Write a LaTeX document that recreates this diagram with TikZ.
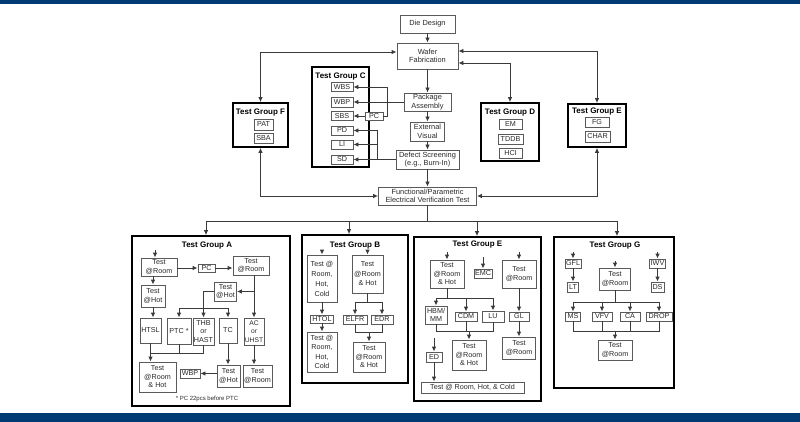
\documentclass[tikz,border=0pt]{standalone}
\usepackage{fontspec}
\setmainfont{Liberation Sans}
\usetikzlibrary{arrows.meta,calc}
\definecolor{navy}{HTML}{003B73}
\definecolor{txtc}{HTML}{2A2A2A}
\definecolor{bordc}{HTML}{5A5A5A}
\definecolor{linec}{HTML}{3A3A3A}
\begin{document}
\begin{tikzpicture}[x=1pt,y=-1pt,
  bx/.style={draw=bordc, fill=white, line width=0.9pt, inner sep=0pt, align=center, text=txtc, font=\fontsize{7.2}{8.5}\selectfont},
  fl/.style={bx, font=\fontsize{7.4}{8.5}\selectfont},
  grp/.style={draw=black, line width=1.8pt, inner sep=0pt},
  ttl/.style={font=\bfseries\fontsize{8}{9}\selectfont, text=black, inner sep=0pt},
  wire/.style={draw=linec, line width=0.9pt},
  arr/.style={wire, -{Latex[length=5pt,width=4.6pt]}},
  biarr/.style={wire, {Latex[length=5pt,width=4.6pt]}-{Latex[length=5pt,width=4.6pt]}}]
\useasboundingbox (0,0) rectangle (800,422);
\fill[navy] (0,0) rectangle (800,4);
\fill[navy] (0,413) rectangle (800,422);

% ---------- group frames ----------
\node[grp, minimum width=57pt, minimum height=100pt] (grpC) at (340.5,117) {};
\node[grp, minimum width=55pt, minimum height=44pt] (grpF) at (260.5,125) {};
\node[grp, minimum width=58pt, minimum height=58pt] (grpD) at (510,132) {};
\node[grp, minimum width=58pt, minimum height=43pt] (grpEt) at (597,125.5) {};
\node[grp, minimum width=158pt, minimum height=170pt] (grpA) at (211,321) {};
\node[grp, minimum width=106pt, minimum height=148pt] (grpB) at (355,309) {};
\node[grp, minimum width=127pt, minimum height=164pt] (grpEb) at (477.5,319) {};
\node[grp, minimum width=120pt, minimum height=151pt] (grpG) at (614,312.5) {};

\node[ttl] (tC) at (340.5,76.5) {Test Group C};
\node[ttl] (tF) at (260.5,113) {Test Group F};
\node[ttl] (tD) at (510,112.5) {Test Group D};
\node[ttl] (tEt) at (597,111.5) {Test Group E};
\node[ttl] (tA) at (207,245.5) {Test Group A};
\node[ttl] (tB) at (355,245.5) {Test Group B};
\node[ttl] (tEb) at (477.5,245) {Test Group E};
\node[ttl] (tG) at (615,246) {Test Group G};

% ---------- main flow ----------
\node[fl, minimum width=55pt, minimum height=18pt] (die) at (427.5,24) {Die Design};
\node[fl, minimum width=61pt, minimum height=26pt] (wafer) at (427.5,56) {Wafer\\Fabrication};
\node[fl, minimum width=47pt, minimum height=18pt] (pa) at (427.5,102) {Package\\Assembly};
\node[fl, minimum width=34pt, minimum height=19pt] (ev) at (427.5,131.5) {External\\Visual};
\node[fl, minimum width=63pt, minimum height=19pt] (ds) at (427.5,159.5) {Defect Screening\\(e.g., Burn-In)};
\node[fl, minimum width=98pt, minimum height=18pt] (fp) at (427.5,196) {Functional/Parametric\\Electrical Verification Test};

\draw[arr] (die.south) -- (wafer.north);
\draw[arr] (wafer.south) -- (pa.north);
\draw[arr] (pa.south) -- (ev.north);
\draw[arr] (ev.south) -- (ds.north);
\draw[arr] (ds.south) -- (fp.north);

% ---------- group C ----------
\node[bx, minimum width=22pt, minimum height=9pt] (wbs) at (342,87) {WBS};
\node[bx, minimum width=22pt, minimum height=10pt] (wbp) at (342,102) {WBP};
\node[bx, minimum width=22pt, minimum height=9pt] (sbs) at (342,116) {SBS};
\node[bx, minimum width=22pt, minimum height=9pt] (pd) at (342,130.5) {PD};
\node[bx, minimum width=22pt, minimum height=9pt] (li) at (342,144.5) {LI};
\node[bx, minimum width=22pt, minimum height=9pt] (sd) at (342,159.5) {SD};
\node[bx, minimum width=18pt, minimum height=8pt] (pcC) at (374,116) {PC};

\draw[arr] (pa.west) -- (wbp.east);
\coordinate (pcj) at (387,116);
\draw[arr] (pcC.east) -- (pcj) |- (wbs.east);
\draw[arr] (pcC.west) -- (sbs.east);
\draw[arr] (ds.west) -- (sd.east);
\coordinate (dsj) at (377,159.5);
\draw[arr] (dsj) |- (pd.east);
\draw[arr] (dsj |- li.east) -- (li.east);

% ---------- groups F, D, E (top) ----------
\node[bx, minimum width=19pt, minimum height=11pt] (pat) at (263.5,124.5) {PAT};
\node[bx, minimum width=19pt, minimum height=10pt] (sba) at (263.5,138) {SBA};
\node[bx, minimum width=23pt, minimum height=10pt] (em) at (510.5,124) {EM};
\node[bx, minimum width=25pt, minimum height=10pt] (tddb) at (510.5,139) {TDDB};
\node[bx, minimum width=23pt, minimum height=10pt] (hci) at (510.5,153) {HCI};
\node[bx, minimum width=24pt, minimum height=10pt] (fg) at (597,122) {FG};
\node[bx, minimum width=25pt, minimum height=11pt] (char) at (597.5,136.5) {CHAR};

\draw[biarr] (grpF.north) |- ([yshift=4pt]wafer.west);
\draw[biarr] (grpEt.north) |- ([yshift=5pt]wafer.east);
\draw[biarr] (grpD.north) |- ([yshift=-7pt]wafer.east);
\draw[biarr] (grpF.south) |- (fp.west);
\draw[biarr] (grpEt.south) |- (fp.east);

% ---------- bus to lower groups ----------
\coordinate (busA) at (206,221);
\coordinate (busB) at (349,221);
\coordinate (busE) at (477,221);
\coordinate (busG) at (617,221);
\draw[wire] (fp.south) -- (fp.south |- busA);
\draw[wire] (busA) -- (busG);
\draw[arr] (busA) -- (busA |- grpA.north);
\draw[arr] (busB) -- (busB |- grpB.north);
\draw[arr] (busE) -- (busE |- grpEb.north);
\draw[arr] (busG) -- (busG |- grpG.north);

% ---------- group A ----------
\node[bx, minimum width=36pt, minimum height=18pt] (aTR1) at (159,267) {Test\\@Room};
\node[bx, minimum width=17pt, minimum height=8pt] (aPC) at (206.5,268) {PC};
\node[bx, minimum width=36pt, minimum height=19pt] (aTR2) at (251,265.5) {Test\\@Room};
\node[bx, minimum width=24pt, minimum height=22pt] (aTH1) at (153,296) {Test\\@Hot};
\node[bx, minimum width=22pt, minimum height=19pt] (aTH2) at (225.5,291.5) {Test\\@Hot};
\node[bx, minimum width=21pt, minimum height=25pt] (htsl) at (150.5,330.5) {HTSL};
\node[bx, minimum width=24pt, minimum height=26pt] (ptc) at (179,331) {PTC *};
\node[bx, minimum width=21pt, minimum height=27pt] (thb) at (203.5,331.5) {THB\\or\\HAST};
\node[bx, minimum width=18pt, minimum height=25pt] (tc) at (228,330.5) {TC};
\node[bx, minimum width=20pt, minimum height=27pt, font=\fontsize{6.7}{8.5}\selectfont] (ac) at (254,331.5) {AC\\or\\UHST};
\node[bx, minimum width=37pt, minimum height=30pt] (aTRH) at (157.5,377) {Test\\@Room\\\& Hot};
\node[bx, minimum width=20pt, minimum height=9pt] (wbpA) at (190,373.5) {WBP};
\node[bx, minimum width=23pt, minimum height=22pt] (aTH3) at (228.5,376) {Test\\@Hot};
\node[bx, minimum width=29pt, minimum height=22pt] (aTR3) at (257.5,376) {Test\\@Room};
\node[text=txtc, inner sep=0pt, font=\fontsize{6}{7}\selectfont] (aNote) at (207,399) {* PC 22pcs before PTC};

\coordinate (aIn) at (155,250);
\draw[arr] (aIn) -- (aIn |- aTR1.north);
\draw[arr] (aTR1.east |- aPC.west) -- (aPC.west);
\draw[arr] (aPC.east) -- (aTR2.west |- aPC.east);
\draw[arr] (aTH1.north |- aTR1.south) -- (aTH1.north);
\draw[arr] (ac.north |- aTR2.south) -- (ac.north);
\draw[arr] (ac.north |- aTH2.east) -- (aTH2.east);
\coordinate (aB1) at (203.5,308);
\draw[wire] (aTH2.west) -| (aB1);
\draw[wire] (ptc.north |- aB1) -- (tc.north |- aB1);
\draw[arr] (ptc.north |- aB1) -- (ptc.north);
\draw[arr] (thb.north |- aB1) -- (thb.north);
\draw[arr] (tc.north |- aB1) -- (tc.north);
\draw[arr] (aTH1.south) -- (aTH1.south |- htsl.north);
\coordinate (aB2) at (150.5,353);
\draw[wire] (aB2) -- (thb.south |- aB2);
\draw[wire] (ptc.south) -- (ptc.south |- aB2);
\draw[wire] (thb.south) -- (thb.south |- aB2);
\draw[arr] (htsl.south) -- (htsl.south |- aTRH.north);
\draw[arr] (tc.south) -- (tc.south |- aTH3.north);
\draw[arr] (ac.south) -- (ac.south |- aTR3.north);
\draw[arr] (aTH3.west |- wbpA.east) -- (wbpA.east);

% ---------- group B ----------
\node[bx, minimum width=30pt, minimum height=47pt, font=\fontsize{7.2}{10}\selectfont] (bTRHC1) at (322,278.5) {Test @\\Room,\\Hot,\\Cold};
\node[bx, minimum width=23pt, minimum height=8pt] (htol) at (322,319) {HTOL};
\node[bx, minimum width=30pt, minimum height=40pt, font=\fontsize{7.2}{9.5}\selectfont] (bTRHC2) at (322,352) {Test @\\Room,\\Hot,\\Cold};
\node[bx, minimum width=31pt, minimum height=38pt, font=\fontsize{7.2}{9.5}\selectfont] (bTRH1) at (367.5,274) {Test\\@Room\\\& Hot};
\node[bx, minimum width=24pt, minimum height=9pt] (elfr) at (355,319.5) {ELFR};
\node[bx, minimum width=22pt, minimum height=9pt] (edr) at (382,319.5) {EDR};
\node[bx, minimum width=32pt, minimum height=30pt] (bTRH2) at (369,357) {Test\\@Room\\\& Hot};

\coordinate (bIn1) at (322,250);
\coordinate (bIn2) at (367.5,250);
\draw[arr] (bIn1) -- (bTRHC1.north);
\draw[arr] (bIn2) -- (bTRH1.north);
\draw[arr] (bTRHC1.south) -- (htol.north);
\draw[arr] (htol.south) -- (bTRHC2.north);
\coordinate (bB1) at (367.5,302);
\draw[wire] (bTRH1.south) -- (bB1);
\draw[wire] (elfr.north |- bB1) -- (edr.north |- bB1);
\draw[arr] (elfr.north |- bB1) -- (elfr.north);
\draw[arr] (edr.north |- bB1) -- (edr.north);
\coordinate (bB2) at (369,332);
\draw[wire] (elfr.south) -- (elfr.south |- bB2) -- (edr.south |- bB2) -- (edr.south);
\draw[arr] (bB2) -- (bTRH2.north);

% ---------- group E (bottom) ----------
\node[bx, minimum width=34pt, minimum height=28pt] (eTRH1) at (447,274) {Test\\@Room\\\& Hot};
\node[bx, minimum width=18pt, minimum height=9pt] (emc) at (483,273.5) {EMC};
\node[bx, minimum width=34pt, minimum height=28pt] (eTR1) at (519,274) {Test\\@Room};
\node[bx, minimum width=22pt, minimum height=18pt] (hbm) at (436,315) {HBM/\\MM};
\node[bx, minimum width=22pt, minimum height=9pt] (cdm) at (466,316.5) {CDM};
\node[bx, minimum width=22pt, minimum height=11pt] (lu) at (493,316.5) {LU};
\node[bx, minimum width=34pt, minimum height=30pt] (eTRH2) at (469,355) {Test\\@Room\\\& Hot};
\node[bx, minimum width=20pt, minimum height=9pt] (gl) at (519,316.5) {GL};
\node[bx, minimum width=33pt, minimum height=22pt] (eTR2) at (519,348) {Test\\@Room};
\node[bx, minimum width=16pt, minimum height=10pt] (ed) at (434,357) {ED};
\node[bx, minimum width=103pt, minimum height=11pt] (eWide) at (472.5,387.5) {Test @ Room, Hot, \& Cold};

\coordinate (eIn1) at (447,252);
\coordinate (eIn2) at (483,257);
\coordinate (eIn3) at (519,252);
\coordinate (eIn4) at (434,338);
\draw[arr] (eIn1) -- (eTRH1.north);
\draw[arr] (eIn2) -- (emc.north);
\draw[arr] (eIn3) -- (eTR1.north);
\coordinate (eB1) at (447,298);
\draw[wire] (eTRH1.south) -- (eB1);
\draw[wire] (hbm.north |- eB1) -- (lu.north |- eB1);
\draw[arr] (hbm.north |- eB1) -- (hbm.north);
\draw[arr] (cdm.north |- eB1) -- (cdm.north);
\draw[arr] (lu.north |- eB1) -- (lu.north);
\coordinate (eB2) at (469,331);
\draw[wire] (hbm.south) -- (hbm.south |- eB2) -- (lu.south |- eB2) -- (lu.south);
\draw[wire] (cdm.south) -- (cdm.south |- eB2);
\draw[arr] (eB2) -- (eTRH2.north);
\draw[arr] (eTR1.south) -- (gl.north);
\draw[arr] (gl.south) -- (eTR2.north);
\draw[arr] (eIn4) -- (ed.north);
\draw[arr] (ed.south) -- (ed.south |- eWide.north);

% ---------- group G ----------
\node[bx, minimum width=16pt, minimum height=9pt] (gfl) at (573,263.5) {GFL};
\node[bx, minimum width=11pt, minimum height=10pt] (lt) at (573,287) {LT};
\node[bx, minimum width=31pt, minimum height=22pt] (gTR1) at (615,279) {Test\\@Room};
\node[bx, minimum width=16pt, minimum height=9pt] (iwv) at (657.5,263.5) {IWV};
\node[bx, minimum width=13pt, minimum height=10pt] (dsG) at (657.5,287) {DS};
\node[bx, minimum width=15pt, minimum height=9pt] (ms) at (573,316.5) {MS};
\node[bx, minimum width=20pt, minimum height=9pt] (vfv) at (602,316.5) {VFV};
\node[bx, minimum width=20pt, minimum height=9pt] (ca) at (630,316.5) {CA};
\node[bx, minimum width=26pt, minimum height=9pt] (drop) at (659,316.5) {DROP};
\node[bx, minimum width=34pt, minimum height=20pt] (gTR2) at (615,350) {Test\\@Room};

\coordinate (gIn1) at (573,252);
\coordinate (gIn2) at (615,261);
\coordinate (gIn3) at (657.5,252);
\draw[arr] (gIn1) -- (gfl.north);
\draw[arr] (gfl.south) -- (lt.north);
\draw[arr] (gIn2) -- (gTR1.north);
\draw[arr] (gIn3) -- (iwv.north);
\draw[arr] (iwv.south) -- (dsG.north);
\coordinate (gB1) at (615,302);
\draw[wire] (gTR1.south) -- (gB1);
\draw[wire] (ms.north |- gB1) -- (drop.north |- gB1);
\draw[arr] (ms.north |- gB1) -- (ms.north);
\draw[arr] (vfv.north |- gB1) -- (vfv.north);
\draw[arr] (ca.north |- gB1) -- (ca.north);
\draw[arr] (drop.north |- gB1) -- (drop.north);
\coordinate (gB2) at (615,331);
\draw[wire] (ms.south) -- (ms.south |- gB2) -- (drop.south |- gB2) -- (drop.south);
\draw[wire] (vfv.south) -- (vfv.south |- gB2);
\draw[wire] (ca.south) -- (ca.south |- gB2);
\draw[arr] (gB2) -- (gTR2.north);
\end{tikzpicture}
\end{document}
